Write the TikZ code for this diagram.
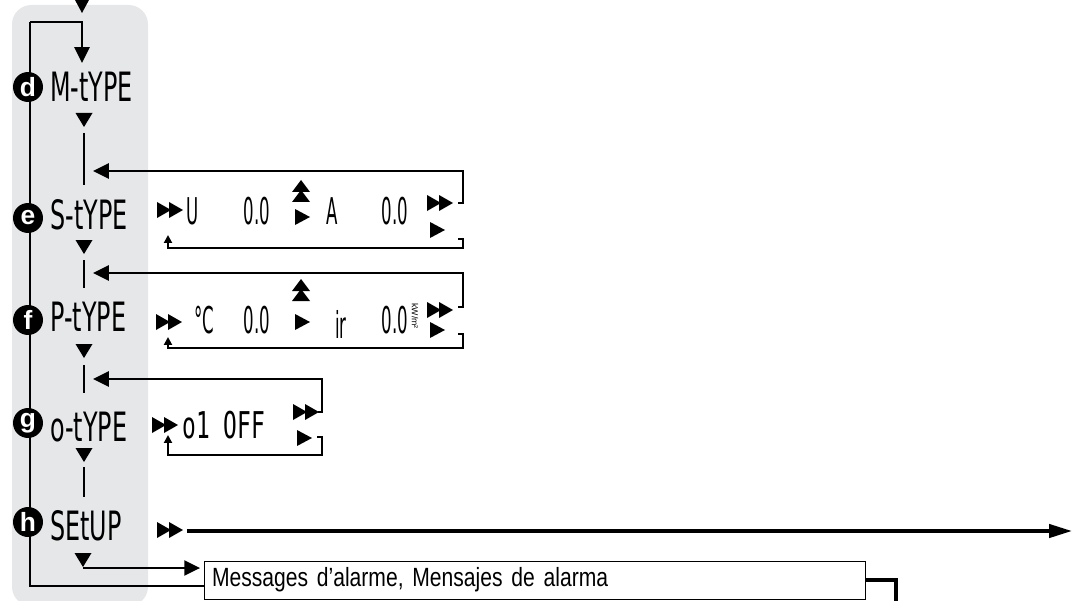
\documentclass[tikz,border=0pt]{standalone}
\usepackage{fontspec}
\setmainfont{Liberation Sans}
\newfontfamily\lcdfont[FakeStretch=0.59]{DejaVu Sans}
\newfontfamily\lcdnarrow[FakeStretch=0.45]{DejaVu Sans}
\newfontfamily\lcdmono[FakeStretch=0.62]{DejaVu Sans Mono}
\newfontfamily\msgfont[FakeStretch=0.8]{Liberation Sans}
\usetikzlibrary{positioning,
        arrows.meta}
\definecolor{panel}{RGB}{230,231,233}

\tikzset{
  dn/.pic={\fill (-8.5,-7) -- (8.5,-7) -- (0,7) -- cycle;},
  rt/.pic={\fill (-7,-8) -- (-7,8) -- (8,0) -- cycle;},
  ff/.pic={\fill (-13,-8) -- (-13,8) -- (1,0) -- cycle;
           \fill (-1,-8) -- (-1,8) -- (13,0) -- cycle;},
  uu/.pic={\fill (-9,0) -- (9,0) -- (0,-12) -- cycle;
           \fill (-9,10) -- (9,10) -- (0,-2) -- cycle;}
}

\begin{document}
\begin{tikzpicture}[x=0.02cm, y=-0.02cm,
        ltr/.style={circle, fill=black, text=white, inner sep=0pt, minimum size=0.6cm,
                font=\bfseries\fontsize{15}{15}\selectfont},
        lcdbig/.style={inner sep=0pt, anchor=west, font=\lcdfont\fontsize{23}{23}\selectfont},
        lcdval/.style={inner sep=0pt, font=\lcdnarrow\fontsize{21}{21}\selectfont},
        msgbox/.style={draw, line width=0.5pt, inner xsep=0.16cm, text width=12.9cm,
                minimum height=0.76cm, align=left, font=\msgfont\fontsize{15}{15}\selectfont},
        wire/.style={line width=1.4pt},
        thinwire/.style={line width=1.1pt},
        head/.style={-{Triangle[length=9pt,width=8.5pt]}},
        smallhead/.style={-{Triangle[length=4.5pt,width=4.5pt]}}]

        \useasboundingbox (0,0) rectangle (1074,601);
        \fill[panel, rounded corners=11pt] (12,5) rectangle (148,606);

        % alarm box and the loop back to the top
        \node [msgbox] (msg) at (534.5,580) {Messages d’alarme, Mensajes de alarma};
        \coordinate (loopout) at ([yshift=-0.12cm]msg.west);
        \coordinate (intoM) at (82,63);
        \fill (75,0) -- (89,0) -- (82,13) -- cycle;
        \draw[wire] (loopout) -| (30,22);
        \draw[wire, head] (30,22) -| (intoM);
        \draw[line width=2.3pt] (msg.east) -| (896,610);

        % left column
        \node [ltr] (d) at (28,87) {d};
        \node [lcdbig] (typeM) at (50,87) {M-tYPE};
        \pic at (84,120) {dn};
        \draw[wire] (84,133) -- (84,185);

        \node [ltr] (e) at (28,218) {e};
        \node [lcdbig] (typeS) at (50,215) {S-tYPE};
        \pic at (84,247) {dn};
        \draw[wire] (84,260) -- (84,288);

        \node [ltr] (f) at (28,320) {f};
        \node [lcdbig] (typeP) at (50,317) {P-tYPE};
        \pic at (84,351) {dn};
        \draw[wire] (84,365) -- (84,393);

        \node [ltr] (g) at (28,423) {g};
        \node [lcdbig] (typeO) at (50,427) {o-tYPE};
        \pic at (84,455) {dn};
        \draw[wire] (84,467) -- (84,497);

        \node [ltr] (h) at (28,522) {h};
        \node [lcdbig] (setup) at (50,526) {SEtUP};
        \pic at (83,560) {dn};

        % S-tYPE row
        \pic at (170,210) {ff};
        \node [lcdval] (u) at (193,211) {U};
        \node [lcdval] (uval) at (257,211) {0.0};
        \pic at (301,192) {uu};
        \pic at (302,217) {rt};
        \node [lcdval] (a) at (332,211) {A};
        \node [lcdval] (aval) at (395,211) {0.0};
        \pic at (440,203) {ff};
        \pic at (437,230) {rt};
        \coordinate (nextS) at (458,203);
        \coordinate (backS) at (458,239);
        \coordinate (barS) at (93,171);
        \draw[wire, head] (nextS) -| (463,171) -- (barS);
        \draw[thinwire, smallhead] (backS) -| (463,248) -| (168,235);

        % P-tYPE row
        \pic at (169,322) {ff};
        \node [lcdval] (degC) at (204,320) {°C};
        \node [lcdval] (cval) at (257,320) {0.0};
        \pic at (301,291) {uu};
        \pic at (302,322) {rt};
        \node [lcdval] (ir) at (341,324) {ir};
        \node [lcdval] (irval) at (395,320) {0.0};
        \node [rotate=-90, inner sep=0pt, font=\fontsize{5}{5}\selectfont] (unit) at (415,316) {kW/m²};
        \pic at (440,310) {ff};
        \pic at (437,330) {rt};
        \coordinate (nextP) at (458,307);
        \coordinate (backP) at (458,334);
        \coordinate (barP) at (93,273);
        \draw[wire, head] (nextP) -| (463,273) -- (barP);
        \draw[thinwire, smallhead] (backP) -| (463,348) -| (168,337);

        % o-tYPE row
        \pic at (165,425) {ff};
        \node [lcdval, font=\lcdmono\fontsize{21}{21}\selectfont] (out) at (224,425) {o1 OFF};
        \pic at (306,412) {ff};
        \pic at (304,438) {rt};
        \coordinate (nextO) at (318,412);
        \coordinate (backO) at (317,437);
        \coordinate (barO) at (93,379);
        \draw[wire, head] (nextO) -| (322,379) -- (barO);
        \draw[thinwire, smallhead] (backO) -| (322,455) -| (168,435);

        % SEtUP row
        \pic at (170,530) {ff};
        \coordinate (setupgo) at (187,531);
        \coordinate (setupend) at (1072,531);
        \draw[line width=2pt, -{Triangle[length=13pt,width=7.5pt]}] (setupgo) -- (setupend);
        \coordinate (tomsg) at (83,568);
        \draw[wire, head] (tomsg) -- ([xshift=-2pt]msg.west |- tomsg);
    \end{tikzpicture}
\end{document}
